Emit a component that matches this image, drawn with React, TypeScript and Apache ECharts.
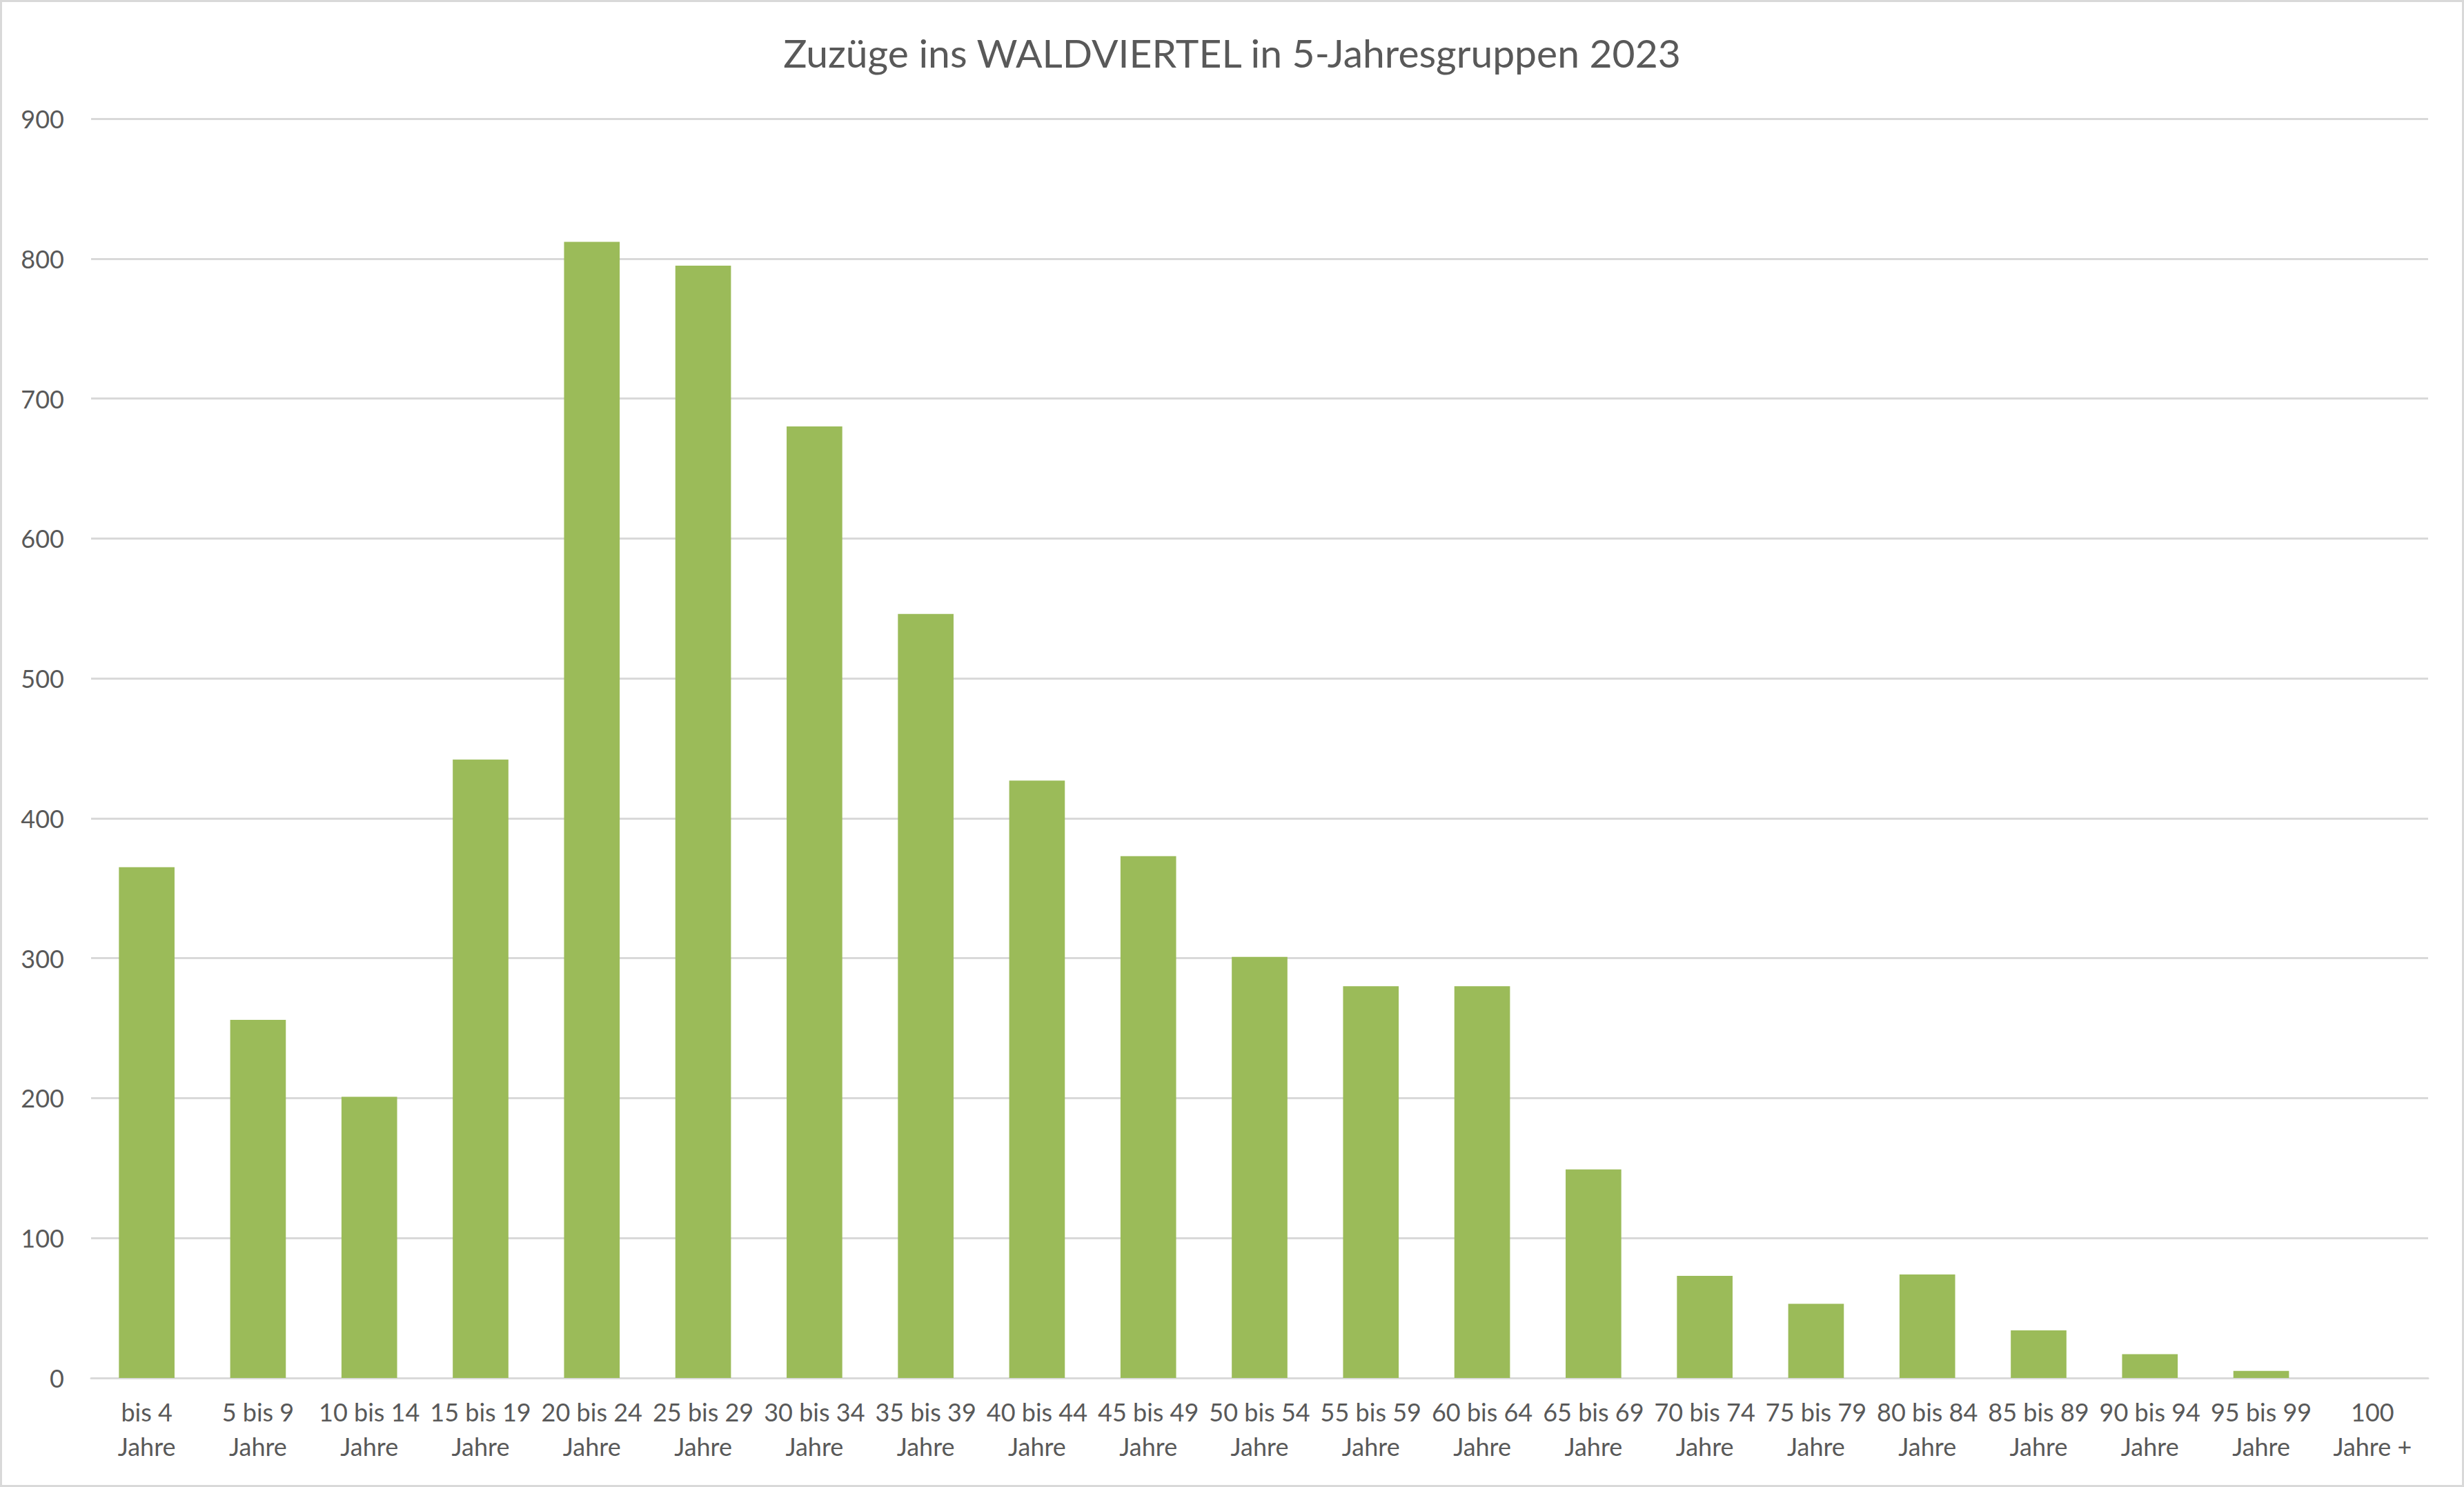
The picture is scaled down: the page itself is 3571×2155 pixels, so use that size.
import React, { useEffect, useRef } from "react";
import * as echarts from "echarts";

const categories = [
  "bis 4 Jahre", "5 bis 9 Jahre", "10 bis 14 Jahre", "15 bis 19 Jahre", "20 bis 24 Jahre",
  "25 bis 29 Jahre", "30 bis 34 Jahre", "35 bis 39 Jahre", "40 bis 44 Jahre", "45 bis 49 Jahre",
  "50 bis 54 Jahre", "55 bis 59 Jahre", "60 bis 64 Jahre", "65 bis 69 Jahre", "70 bis 74 Jahre",
  "75 bis 79 Jahre", "80 bis 84 Jahre", "85 bis 89 Jahre", "90 bis 94 Jahre", "95 bis 99 Jahre",
  "100 Jahre +",
];
const values = [365, 256, 201, 442, 812, 795, 680, 546, 427, 373, 301, 280, 280, 149, 73, 53, 74, 34, 17, 5, 0];
const titleText = "Zuzüge ins WALDVIERTEL in 5-Jahresgruppen 2023";

const FONT = "Lato";
const TEXT = "#595959";
const GRID = "#d9d9d9";

export default function App() {
  const ref = useRef<HTMLDivElement>(null);
  useEffect(() => {
    if (!ref.current) return;
    const chart = echarts.init(ref.current, undefined, { renderer: "svg" });
    chart.setOption({
      animation: false,
      backgroundColor: "#ffffff",
      title: {
        text: titleText,
        left: "center",
        top: 42,
        textStyle: { fontFamily: FONT, fontSize: 57, fontWeight: "normal", color: TEXT },
      },
      graphic: [
        {
          type: "rect",
          shape: { x: 1.5, y: 1.5, width: 3568, height: 2152 },
          style: { fill: "none", stroke: GRID, lineWidth: 3 },
          silent: true,
        },
      ],
      grid: { left: 132, right: 52, top: 172, bottom: 158, containLabel: false },
      xAxis: {
        type: "category",
        data: categories,
        axisLine: { show: true, lineStyle: { color: GRID, width: 3 } },
        axisTick: { show: false },
        axisLabel: {
          interval: 0,
          margin: 24,
          lineHeight: 50,
          fontFamily: FONT,
          fontSize: 36,
          color: TEXT,
          formatter: (v: string) => v.replace(" Jahre", "\nJahre"),
        },
      },
      yAxis: {
        type: "value",
        min: 0,
        max: 900,
        interval: 100,
        axisLine: { show: false },
        axisTick: { show: false },
        splitLine: { show: true, lineStyle: { color: GRID, width: 3 } },
        axisLabel: { margin: 39, fontFamily: FONT, fontSize: 36, color: TEXT },
      },
      series: [
        {
          type: "bar",
          data: values,
          barWidth: "50%",
          itemStyle: { color: "#9BBB59" },
        },
      ],
    });
    return () => chart.dispose();
  }, []);
  return (
    <div
      ref={ref}
      style={{ position: "absolute", left: 0, top: 0, width: 3571, height: 2155 }}
    />
  );
}
